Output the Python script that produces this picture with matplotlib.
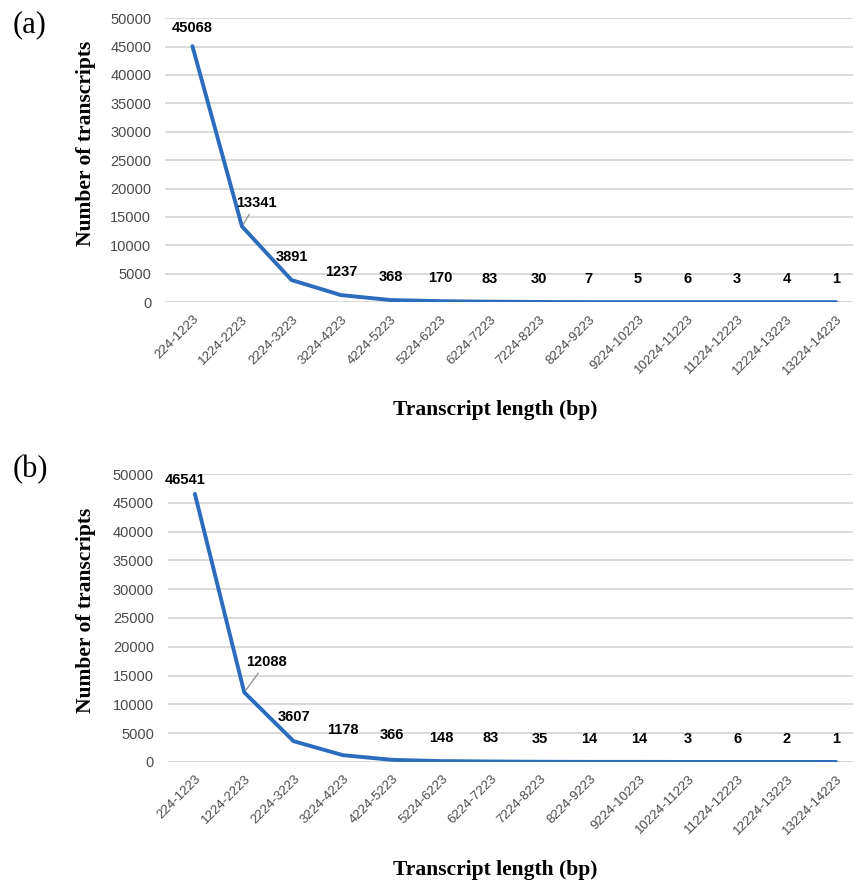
import matplotlib.pyplot as plt

# categorias de longitud (bp)
categorias = ["224-1223", "1224-2223", "2224-3223", "3224-4223", "4224-5223",
              "5224-6223", "6224-7223", "7224-8223", "8224-9223", "9224-10223",
              "10224-11223", "11224-12223", "12224-13223", "13224-14223"]
valores_a = [45068, 13341, 3891, 1237, 368, 170, 83, 30, 7, 5, 6, 3, 4, 1]
valores_b = [46541, 12088, 3607, 1178, 366, 148, 83, 35, 14, 14, 3, 6, 2, 1]
yticks = [0, 5000, 10000, 15000, 20000, 25000, 30000, 35000, 40000, 45000, 50000]

azul = '#2B6CBC'
gris_txt = '#4A4A4A'
sans = 'Liberation Sans'
serif = 'Liberation Serif'

fig = plt.figure(figsize=(8.56, 8.86), dpi=100)


def panel(rect, valores, offsets):
    ax = fig.add_axes(rect)
    x = list(range(len(categorias)))
    ax.plot(x, valores, color=azul, lw=2.8, solid_capstyle='round',
            solid_joinstyle='round', zorder=3)
    ax.set_ylim(0, 50000)
    ax.set_xlim(-0.55, 13.35)
    ax.set_yticks(yticks)
    ax.set_yticklabels([str(v) for v in yticks], fontsize=10.5, family=sans, color=gris_txt)
    ax.set_xticks(x)
    ax.set_xticklabels(categorias, rotation=45, ha='right', rotation_mode='anchor',
                       fontsize=9.5, family=sans, color=gris_txt)
    ax.tick_params(length=0, axis='y', pad=10)
    ax.tick_params(length=0, axis='x', pad=8)
    for s in ax.spines.values():
        s.set_visible(False)
    ax.grid(axis='y', color='#D9D9D9', lw=1.4)
    ax.set_axisbelow(True)
    for i, v in enumerate(valores):
        dx, dy, linea = offsets.get(i, (0, 23, False))
        kw = {}
        if linea:
            kw['arrowprops'] = dict(arrowstyle='-', color='#8C8C8C', lw=0.9,
                                    shrinkA=1, shrinkB=2)
        ax.annotate(str(v), (i, v), xytext=(dx, dy), textcoords='offset pixels',
                    ha='center', va='center', fontsize=10.5, fontweight='bold',
                    family=sans, color='black', **kw)
    return ax


panel([0.193, 0.659, 0.804, 0.3205], valores_a,
      {0: (0, 18, False), 1: (14, 23, True)})
panel([0.196, 0.140, 0.801, 0.325], valores_b,
      {0: (-10, 14, False), 1: (22, 30, True), 2: (0, 24, False),
       3: (0, 25, False), 4: (0, 25, False)})

# etiquetas de panel y ejes
fig.text(30 / 856, 1 - 25 / 886, '(a)', fontsize=22, family=serif, ha='center', va='center')
fig.text(30 / 856, 1 - 470 / 886, '(b)', fontsize=22, family=serif, ha='center', va='center')
fig.text(86 / 856, 1 - 143 / 886, 'Number of transcripts', rotation=90, fontsize=15.5,
         fontweight='bold', family=serif, ha='center', va='center')
fig.text(86 / 856, 1 - 610 / 886, 'Number of transcripts', rotation=90, fontsize=15.5,
         fontweight='bold', family=serif, ha='center', va='center')
fig.text(495 / 856, 1 - 410 / 886, 'Transcript length (bp)', fontsize=15.5,
         fontweight='bold', family=serif, ha='center', va='center')
fig.text(495 / 856, 1 - 870 / 886, 'Transcript length (bp)', fontsize=15.5,
         fontweight='bold', family=serif, ha='center', va='center')

fig.savefig('out.png', dpi=100)
